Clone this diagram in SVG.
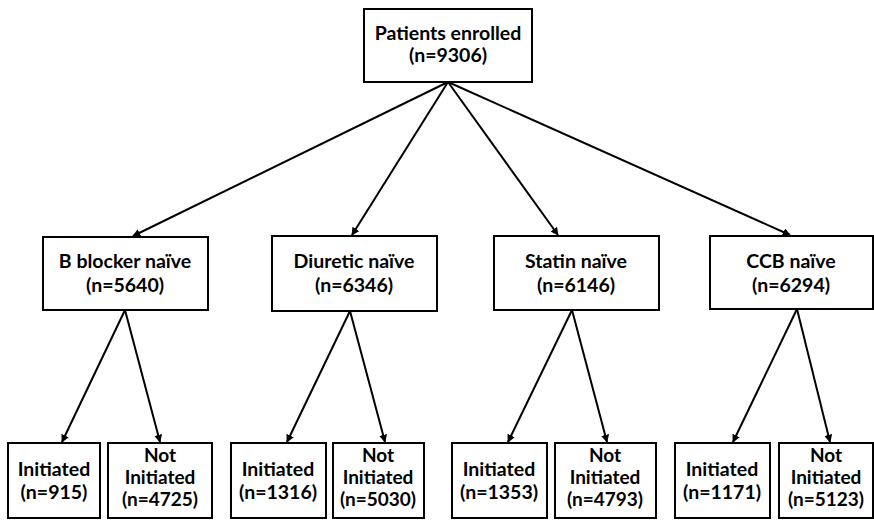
<svg xmlns="http://www.w3.org/2000/svg" width="874" height="520" viewBox="0 0 874 520">
<defs>
<style>
.box{fill:#fff;stroke:#000;stroke-width:2}
.t{font-family:Lato,"Open Sans","Liberation Sans",sans-serif;font-weight:bold;font-size:19.5px;fill:#000;text-anchor:middle}
.n{font-size:19px}
.e{stroke:#000;stroke-width:2;fill:none;marker-end:url(#ah)}
</style>
<marker id="ah" viewBox="0 0 10 10" refX="9" refY="5" markerWidth="4" markerHeight="4" orient="auto" markerUnits="strokeWidth">
<path d="M0,0 L10,5 L0,10 z" fill="#000"/>
</marker>
</defs>
<rect width="874" height="520" fill="#fff"/>
<g id="connectors">
<line class="e" x1="448" y1="82" x2="133" y2="236"/>
<line class="e" x1="448" y1="82" x2="352" y2="235"/>
<line class="e" x1="448" y1="82" x2="558" y2="235"/>
<line class="e" x1="448" y1="82" x2="790" y2="235"/>
<line class="e" x1="125" y1="310" x2="62" y2="442"/>
<line class="e" x1="125" y1="310" x2="160" y2="442"/>
<line class="e" x1="350" y1="311" x2="287" y2="442"/>
<line class="e" x1="350" y1="311" x2="385" y2="442"/>
<line class="e" x1="572" y1="310" x2="508" y2="442"/>
<line class="e" x1="572" y1="310" x2="607" y2="442"/>
<line class="e" x1="797" y1="309" x2="733" y2="442"/>
<line class="e" x1="797" y1="309" x2="830" y2="442"/>
</g>
<g id="root"><rect class="box" x="364" y="9" width="168" height="73"/>
<text class="t" x="448" y="40">Patients enrolled</text><text class="t" x="448" y="62">(n=9306)</text></g>
<g id="bblocker"><rect class="box" x="43" y="237" width="165" height="73"/>
<text class="t" x="125" y="268">B  blocker naïve</text><text class="t" x="125" y="292">(n=5640)</text></g>
<g id="diuretic"><rect class="box" x="272" y="236" width="165" height="75"/>
<text class="t" x="354" y="268">Diuretic naïve</text><text class="t" x="354" y="292">(n=6346)</text></g>
<g id="statin"><rect class="box" x="494" y="236" width="165" height="74"/>
<text class="t" x="576" y="268">Statin naïve</text><text class="t" x="576" y="292">(n=6146)</text></g>
<g id="ccb"><rect class="box" x="710" y="236" width="163" height="73"/>
<text class="t" x="791" y="268">CCB naïve</text><text class="t" x="791" y="292">(n=6294)</text></g>
<g id="bb-init"><rect class="box" x="8" y="443" width="92" height="75"/>
<text class="t" x="54" y="476">Initiated</text><text class="t" x="54" y="499">(n=915)</text></g>
<g id="bb-not"><rect class="box" x="108" y="443" width="104" height="75"/>
<text class="t n" x="160" y="462">Not</text><text class="t n" x="160" y="484">Initiated</text><text class="t n" x="160" y="506">(n=4725)</text></g>
<g id="di-init"><rect class="box" x="231" y="443" width="95" height="75"/>
<text class="t" x="278" y="476">Initiated</text><text class="t" x="278" y="499">(n=1316)</text></g>
<g id="di-not"><rect class="box" x="333" y="443" width="91" height="75"/>
<text class="t n" x="378" y="462">Not</text><text class="t n" x="378" y="484">Initiated</text><text class="t n" x="378" y="506">(n=5030)</text></g>
<g id="st-init"><rect class="box" x="452" y="443" width="95" height="75"/>
<text class="t" x="499" y="476">Initiated</text><text class="t" x="499" y="499">(n=1353)</text></g>
<g id="st-not"><rect class="box" x="555" y="443" width="101" height="75"/>
<text class="t n" x="605" y="462">Not</text><text class="t n" x="605" y="484">Initiated</text><text class="t n" x="605" y="506">(n=4793)</text></g>
<g id="cc-init"><rect class="box" x="675" y="443" width="95" height="75"/>
<text class="t" x="722" y="476">Initiated</text><text class="t" x="722" y="499">(n=1171)</text></g>
<g id="cc-not"><rect class="box" x="779" y="443" width="94" height="75"/>
<text class="t n" x="826" y="462">Not</text><text class="t n" x="826" y="484">Initiated</text><text class="t n" x="826" y="506">(n=5123)</text></g>
</svg>
